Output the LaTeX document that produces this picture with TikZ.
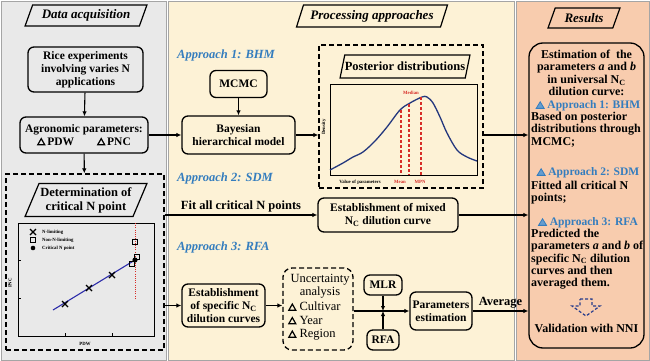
\documentclass[tikz,border=0pt]{standalone}
\usepackage{fontspec}
\setmainfont{Liberation Serif}
\usetikzlibrary{shapes.geometric,arrows.meta}
\definecolor{leftbg}{RGB}{233,233,233}
\definecolor{midbg}{RGB}{253,242,214}
\definecolor{rightbg}{RGB}{248,204,174}
\definecolor{panelline}{RGB}{165,165,165}
\definecolor{apblue}{RGB}{52,125,190}
\definecolor{redl}{RGB}{215,45,40}
\definecolor{lineblue}{RGB}{45,45,170}
\definecolor{curveblue}{RGB}{35,55,125}
\definecolor{arrowblue}{RGB}{40,60,140}
\tikzset{
 panel/.style={draw=panelline, line width=0.8pt},
 box/.style={draw, line width=1.3pt, rounded corners=6pt, align=center, inner sep=1pt, font=\bfseries\fontsize{11.5}{13}\selectfont},
 hdr/.style={draw, line width=1.2pt, trapezium, trapezium left angle=62, trapezium right angle=118, trapezium stretches=true, inner sep=0pt, font=\bfseries\itshape\fontsize{13}{15}\selectfont},
 dbox/.style={draw, line width=1.3pt, dash pattern=on 5pt off 3pt},
 conn/.style={line width=1.1pt, -{Latex[length=5pt,width=4.5pt]}},
 appr/.style={font=\bfseries\itshape\fontsize{12.5}{14}\selectfont, text=apblue, anchor=west, inner sep=0pt},
 tinytxt/.style={font=\bfseries\fontsize{4.8}{5}\selectfont, inner sep=0pt},
 rtxt/.style={font=\bfseries\fontsize{12}{12.3}\selectfont, inner sep=0pt, align=left},
 rhead/.style={font=\bfseries\fontsize{11.5}{12.3}\selectfont, inner sep=0pt, text=apblue},
}
\newcommand{\otri}{\tikz[baseline=0pt, sharp corners]\draw[line width=1.2pt, line join=miter, solid] (0pt,0.6pt) -- (7pt,0.6pt) -- (3.5pt,6.8pt) -- cycle;}
\newcommand{\btri}{\tikz[baseline=0pt, sharp corners]\filldraw[draw=apblue, fill=apblue!75, line width=0.8pt, line join=miter, solid] (0pt,0.4pt) -- (8pt,0.4pt) -- (4pt,7pt) -- cycle;}
\begin{document}
\begin{tikzpicture}[x=1pt,y=-1pt]
\useasboundingbox (0,0) rectangle (650,361);
% panels
\filldraw[panel, fill=leftbg] (1,1) rectangle (166,360);
\filldraw[panel, fill=midbg] (168,1) rectangle (514,360);
\filldraw[panel, fill=rightbg] (516,1) rectangle (649,360);

% headers
\node[hdr, minimum width=122pt, minimum height=21pt] (h1) at (86,15.5) {Data acquisition};
\node[hdr, minimum width=151pt, minimum height=22pt] (h2) at (372,16) {Processing approaches};
\node[hdr, minimum width=72pt, minimum height=20pt] (h3) at (584,18) {Results};

% left column
\node[box, minimum width=115pt, minimum height=45pt] (rice) at (85.5,69.5) {Rice experiments\\involving varies N\\applications};
\node[box, minimum width=128pt, minimum height=36pt] (agro) at (84,135) {Agronomic parameters:\\\otri\,PDW\qquad\otri\,PNC};
\node[dbox, minimum width=158pt, minimum height=176pt] (det) at (85,262) {};
\node[hdr, font=\bfseries\fontsize{12.5}{14}\selectfont, align=center, minimum width=122pt, minimum height=33pt] (deth) at (86,200) {Determination of\\critical N point};
\draw[conn] (rice) -- (agro);
\draw[conn] (agro) -- (det);

% left scatter plot
\node[draw, line width=0.8pt, minimum width=136pt, minimum height=113pt, inner sep=0pt] (lplot) at (86,279.5) {};
\draw[line width=0.6pt] (18,260) -- (21,260) (18,298) -- (21,298) (65,336) -- (65,333) (112,336) -- (112,333);
\draw[redl, line width=1pt, dash pattern=on 1pt off 1.2pt] (135,223) -- (135,300);
\draw[lineblue, line width=1.1pt] (53,310) -- (135,260);
\foreach \px/\py in {65/304, 89/288, 112/275, 33/232}
  \draw[line width=1.1pt] (\px-3,\py-3) -- (\px+3,\py+3) (\px-3,\py+3) -- (\px+3,\py-3);
\foreach \px/\py in {132/264, 137/257, 135/242, 33/240}
  \draw[line width=0.7pt] (\px-2.2,\py-2.2) rectangle (\px+2.2,\py+2.2);
\fill (135,260) circle (2.6pt);
\fill (33,248) circle (2.3pt);
\node[tinytxt, anchor=west] (lg1) at (42,232) {N-limiting};
\node[tinytxt, anchor=west] (lg2) at (42,240) {Non-N-limiting};
\node[tinytxt, anchor=west] (lg3) at (42,248) {Critical N point};
\node[tinytxt, rotate=90] (pnc) at (10,283) {PNC};
\node[tinytxt] (pdw) at (85,344) {PDW};

% approach 1
\node[appr] (a1) at (177,55) {Approach 1: BHM};
\node[box, minimum width=57pt, minimum height=27pt] (mcmc) at (238.5,84) {MCMC};
\node[box, minimum width=113pt, minimum height=38pt] (bhm) at (238.5,135) {Bayesian\\hierarchical model};
\draw[conn] (mcmc) -- (bhm);
\draw[conn] (agro.east) -- (bhm.west);
\node[dbox, minimum width=164pt, minimum height=143pt] (post) at (401,116.5) {};
\node[hdr, font=\bfseries\fontsize{12.5}{14}\selectfont, minimum width=124pt, minimum height=23pt] (posth) at (405,66.5) {Posterior distributions};
\draw[conn] (bhm.east) -- (post.west |- bhm.east);
\node[draw, line width=0.9pt, minimum width=147pt, minimum height=91pt, inner sep=0pt] (pplot) at (403.5,129.5) {};
\draw[curveblue, line width=1.3pt] plot[smooth, tension=0.55] coordinates {(330,170) (343,163) (353,157) (363,152) (375,141) (387,127) (400,110) (410,103) (422,97) (427,97) (433,103) (440,117) (447,133) (457,150) (467,157) (477,161)};
\draw[redl, line width=1.2pt, dash pattern=on 3pt off 2pt] (401,110) -- (401,175) (409,104) -- (409,175) (421,97) -- (421,175);
\node[tinytxt, text=redl] (med) at (411,93) {Median};
\node[tinytxt] (vop) at (360,182) {Value of parameters};
\node[tinytxt, text=redl] (mean) at (400,182) {Mean};
\node[tinytxt, text=redl] (mpn) at (420,182) {MPN};
\node[tinytxt, rotate=90] (dens) at (324,127) {Density};

% approach 2
\node[appr] (a2) at (177,178) {Approach 2: SDM};
\node[box, minimum width=140pt, minimum height=34pt] (mixed) at (388,215) {Establishment of mixed\\N\textsubscript{C} dilution curve};
\draw[conn] (det.east |- mixed.west) -- node[above=1pt, font=\bfseries\fontsize{12.5}{14}\selectfont, inner sep=1pt] (fitlbl) {Fit all critical N points} (mixed.west);

% approach 3
\node[appr] (a3) at (177,247) {Approach 3: RFA};
\node[box, minimum width=83pt, minimum height=43pt] (spec) at (223.5,305.5) {Establishment\\of specific N\textsubscript{C}\\dilution curves};
\draw[conn] (det.east |- spec.west) -- (spec.west);
\node[dbox, rounded corners=9pt, minimum width=70pt, minimum height=82pt] (unc) at (318,309) {};
\node[font=\fontsize{12.5}{13}\selectfont, align=center, inner sep=0pt] (unct) at (320,286.5) {Uncertainty\\analysis};
\node[font=\fontsize{12.5}{13.5}\selectfont, align=left, inner sep=0pt, anchor=north west] (uncl) at (288,302) {\otri\ Cultivar\\\otri\ Year\\\otri\ Region};
\draw[conn] (spec.east) -- (unc.west |- spec.east);
\node[box, minimum width=38pt, minimum height=20pt] (mlr) at (383,285) {MLR};
\node[box, minimum width=32pt, minimum height=20pt] (rfa) at (383,340) {RFA};
\node[box, minimum width=62pt, minimum height=38pt] (params) at (441,311) {Parameters\\estimation};
\draw[conn] (unc.east |- params.west) -- (params.west);
\draw[conn] (mlr.south) -- (mlr.south |- params.west);
\draw[conn] (rfa.north) -- (rfa.north |- params.west);

% results
\node[draw, line width=1.3pt, rounded corners=14pt, minimum width=115pt, minimum height=305pt] (res) at (586.5,195.5) {};
\draw[conn] (post.east |- bhm.east) -- (res.west |- bhm.east);
\draw[conn] (mixed.east) -- (res.west |- mixed.east);
\draw[conn] (params.east) -- node[above=1pt, font=\bfseries\fontsize{12.5}{14}\selectfont, inner sep=1pt] (avg) {Average} (res.west |- params.east);

\node[rtxt, align=center, anchor=north] (r0) at (586.5,50) {Estimation of\ \ the\\parameters \textit{a} and \textit{b}\\in universal N\textsubscript{C}\\dilution curve:};
\node[rhead] (r1h) at (588,106) {\btri\ Approach 1: BHM};
\node[rtxt, anchor=north west] (r1) at (531,112) {Based on posterior\\distributions through\\MCMC;};
\node[rhead] (r2h) at (588,173) {\btri\ Approach 2: SDM};
\node[rtxt, anchor=north west] (r2) at (531,181) {Fitted all critical N\\points;};
\node[rhead] (r3h) at (588,223) {\btri\ Approach 3: RFA};
\node[rtxt, anchor=north west] (r3) at (531,229) {Predicted the\\parameters \textit{a} and \textit{b} of\\specific N\textsubscript{C} dilution\\curves and then\\averaged them.};
\draw[arrowblue, line width=1.2pt, dash pattern=on 3pt off 2pt] (580,299) -- (592,299) -- (592,306) -- (600,306) -- (586,316) -- (572,306) -- (580,306) -- cycle;
\node[rtxt] (val) at (586.5,328) {Validation with NNI};
\end{tikzpicture}
\end{document}
